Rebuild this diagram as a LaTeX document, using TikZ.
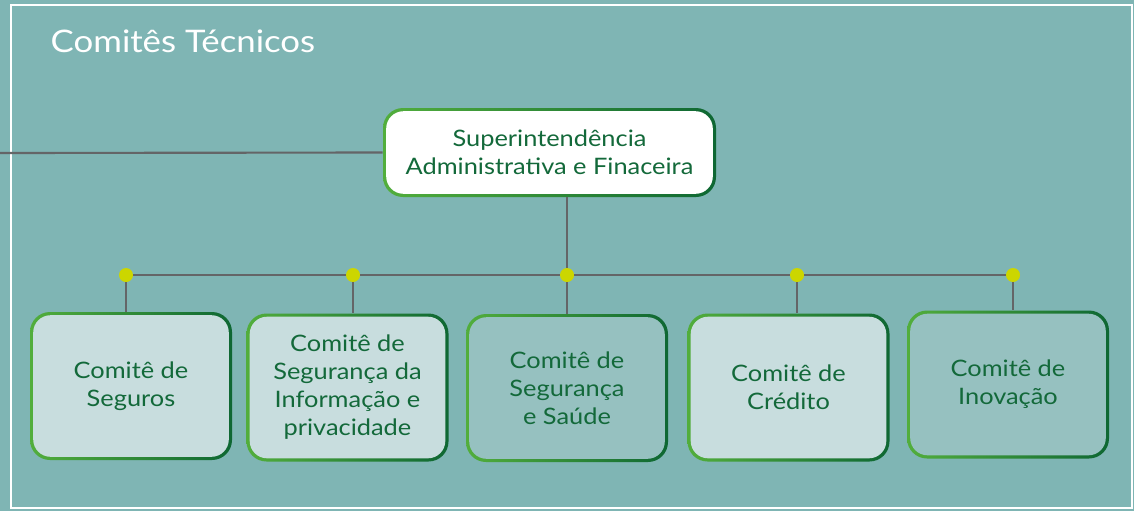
\documentclass[tikz,border=0pt]{standalone}
\usepackage{fontspec}
\setmainfont[FakeStretch=1.12]{Lato}
\definecolor{bgteal}{HTML}{7FB5B4}
\definecolor{boxlight}{HTML}{C8DDDE}
\definecolor{boxmid}{HTML}{96C1C0}
\definecolor{txtgreen}{HTML}{13693A}
\definecolor{edgelight}{HTML}{52AE3C}
\definecolor{edgedark}{HTML}{0E6733}
\definecolor{linegray}{HTML}{646567}
\definecolor{dotyellow}{HTML}{CCD600}
\begin{document}
\begin{tikzpicture}[
    x=0.75pt, y=-0.75pt,
    box/.style={rectangle, rounded corners=15pt, inner sep=0pt,
        minimum width=151.5pt, minimum height=111pt,
        left color=edgelight, right color=edgedark,
        align=center, text=txtgreen, font=\fontsize{17}{21}\selectfont,
        path picture={\fill[#1, rounded corners=13pt]
            ([shift={(2.4pt,2.4pt)}]path picture bounding box.south west) rectangle
            ([shift={(-2.4pt,-2.4pt)}]path picture bounding box.north east);}},
    dot/.style={circle, fill=dotyellow, minimum size=10.5pt, inner sep=0pt},
    link/.style={draw=linegray, line width=1.6pt}
]
    % Background and frame
    \useasboundingbox (0,0) rectangle (1134,511);
    \fill[bgteal] (0,0) rectangle (1134,511);
    \draw[white, line width=1.5pt] (11,5) rectangle (1132,508);
    \node[anchor=base west, text=white, font=\fontsize{23.3}{28}\selectfont] (title) at (46,52) {Comitês Técnicos};

    % Boxes
    \node[box=white, minimum width=249.75pt, minimum height=66.75pt] (sup) at (549.5,152.5)
        {Superintendência\\Administrativa e Finaceira};
    \node[box=boxlight] (b1) at (131,386) {Comitê de\\Seguros};
    \node[box=boxlight] (b2) at (347.5,387.5) {Comitê de\\Segurança da\\Informação e\\privacidade};
    \node[box=boxmid] (b3) at (567,388) {Comitê de\\Segurança\\e Saúde};
    \node[box=boxlight] (b4) at (788.5,387.5) {Comitê de\\Crédito};
    \node[box=boxmid] (b5) at (1008,384.5) {Comitê de\\Inovação};

    % Junctions
    \coordinate (lft) at (0,153);
    \coordinate (d1) at (126,275);
    \coordinate (d2) at (353,275);
    \coordinate (d3) at (567,275);
    \coordinate (d4) at (797,275);
    \coordinate (d5) at (1013,275);

    % Connectors
    \draw[link] (lft) -- (sup.west);
    \draw[link] (sup.south -| d3) -- (d3);
    \draw[link] (d1) -- (d2) -- (d3) -- (d4) -- (d5);
    \draw[link] (d1) -- (d1 |- b1.north);
    \draw[link] (d2) -- (d2 |- b2.north);
    \draw[link] (d3) -- (d3 |- b3.north);
    \draw[link] (d4) -- (d4 |- b4.north);
    \draw[link] (d5) -- (d5 |- b5.north);

    % Dots
    \node[dot] (k1) at (d1) {};
    \node[dot] (k2) at (d2) {};
    \node[dot] (k3) at (d3) {};
    \node[dot] (k4) at (d4) {};
    \node[dot] (k5) at (d5) {};
\end{tikzpicture}
\end{document}
